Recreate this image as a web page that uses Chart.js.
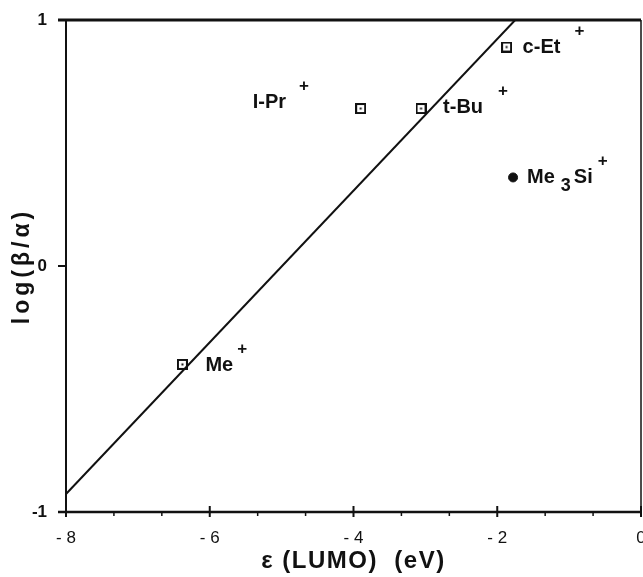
<!DOCTYPE html>
<html>
<head>
<meta charset="utf-8">
<script src="https://cdn.jsdelivr.net/npm/chart.js@4.4.1/dist/chart.umd.min.js"></script>
<style>
    html, body { margin: 0; padding: 0; background: #fff; }
    #wrap { width: 643px; height: 577px; }
</style>
</head>
<body>
<div id="wrap"><canvas id="Chart1" width="643" height="577"></canvas></div>
<script>
// data
const radicals = ["Me", "I-Pr", "t-Bu", "c-Et", "Me3Si"];
const lumoEnergy = [-6.38, -3.90, -3.06, -1.87, -1.78];
const logRatio = [-0.40, 0.64, 0.64, 0.89, 0.36];
const fitLineX = [-8, -1.75];
const fitLineY = [-0.927, 1];
const xTickValues = [-8, -6, -4, -2, 0];
const yTickValues = [-1, 0, 1];

// label placement relative to each marker (px)
const labelStyle = [
    {dx: 23, dy: 1, plusGap: 9},
    {dx: -108, dy: -6, plusGap: 18},
    {dx: 22, dy: -1, plusGap: 20},
    {dx: 16, dy: 0, plusGap: 19},
    {dx: 14, dy: 0, plusGap: 10}
];

const FONT = "'Liberation Sans', Arial, Helvetica, sans-serif";

const openPoints = [];
const filledPoints = [];
radicals.forEach((r, i) => {
    const p = {x: lumoEnergy[i], y: logRatio[i]};
    if (r === "Me3Si") filledPoints.push(p); else openPoints.push(p);
});

// open square with a dot in the middle
function squareMarker() {
    const c = document.createElement('canvas');
    c.width = 11; c.height = 11;
    const g = c.getContext('2d');
    g.strokeStyle = '#111';
    g.lineWidth = 2;
    g.strokeRect(1, 1, 9, 9);
    g.fillStyle = '#111';
    g.fillRect(4.5, 4.5, 2, 2);
    return c;
}

const decorations = {
    id: 'decorations',
    afterDraw(chart) {
        const ctx = chart.ctx;
        const xs = chart.scales.x;
        const ys = chart.scales.y;
        const L = xs.left, R = xs.right, T = ys.top, B = ys.bottom;
        ctx.save();
        ctx.strokeStyle = '#111';
        // frame
        ctx.lineWidth = 3;
        ctx.beginPath(); ctx.moveTo(L - 8, T); ctx.lineTo(R, T); ctx.stroke();
        ctx.lineWidth = 2.5;
        ctx.beginPath(); ctx.moveTo(L - 8, B); ctx.lineTo(R, B); ctx.stroke();
        ctx.lineWidth = 2;
        ctx.beginPath(); ctx.moveTo(L, T); ctx.lineTo(L, B + 5); ctx.stroke();
        ctx.lineWidth = 1.5;
        ctx.beginPath(); ctx.moveTo(R, T); ctx.lineTo(R, B + 5); ctx.stroke();

        // y ticks
        ctx.lineWidth = 2;
        yTickValues.forEach(v => {
            const py = ys.getPixelForValue(v);
            ctx.beginPath(); ctx.moveTo(L - 8, py); ctx.lineTo(L, py); ctx.stroke();
        });
        // x ticks: majors upward, minors every 2/3 downward
        xTickValues.forEach(v => {
            const px = xs.getPixelForValue(v);
            ctx.beginPath(); ctx.moveTo(px, B - 6); ctx.lineTo(px, B + 5); ctx.stroke();
        });
        ctx.lineWidth = 1.5;
        for (let i = 0; i < xTickValues.length - 1; i++) {
            const a = xTickValues[i], b = xTickValues[i + 1];
            [a + (b - a) / 3, a + 2 * (b - a) / 3].forEach(v => {
                const px = xs.getPixelForValue(v);
                ctx.beginPath(); ctx.moveTo(px, B); ctx.lineTo(px, B + 4); ctx.stroke();
            });
        }

        // point labels
        ctx.fillStyle = '#111';
        ctx.textBaseline = 'middle';
        ctx.textAlign = 'left';
        radicals.forEach((r, i) => {
            const st = labelStyle[i];
            let px = xs.getPixelForValue(lumoEnergy[i]) + st.dx;
            const py = ys.getPixelForValue(logRatio[i]) + st.dy;
            ctx.font = 'bold 20px ' + FONT;
            if (r === "Me3Si") {
                ctx.fillText("Me", px, py);
                px += ctx.measureText("Me").width + 6;
                ctx.font = 'bold 18px ' + FONT;
                ctx.fillText("3", px, py + 9);
                px += ctx.measureText("3").width + 3;
                ctx.font = 'bold 20px ' + FONT;
                ctx.fillText("Si", px, py);
                px += ctx.measureText("Si").width;
            } else {
                ctx.fillText(r, px, py);
                px += ctx.measureText(r).width;
            }
            ctx.font = 'bold 17px ' + FONT;
            ctx.fillText("+", px + st.plusGap - 5, py - 16);
        });

        // axis titles
        ctx.textAlign = 'center';
        ctx.font = 'bold 24px ' + FONT;
        ctx.letterSpacing = '1.5px';
        ctx.fillText("ε (LUMO)  (eV)", (L + R) / 2, 561);
        ctx.font = 'bold 23px ' + FONT;
        ctx.letterSpacing = '4px';
        ctx.translate(23, (T + B) / 2);
        ctx.rotate(-Math.PI / 2);
        ctx.fillText("log(β/α)", 0, 0);
        ctx.restore();
    }
};

const ctx = document.getElementById('Chart1').getContext('2d');
new Chart(ctx, {
    type: 'scatter',
    data: {
        datasets: [
            {
                label: 'fit',
                data: fitLineX.map((x, i) => ({x: x, y: fitLineY[i]})),
                showLine: true,
                borderColor: '#111',
                borderWidth: 2,
                pointRadius: 0
            },
            {
                label: 'open',
                data: openPoints,
                pointStyle: squareMarker(),
                pointRadius: 5
            },
            {
                label: 'filled',
                data: filledPoints,
                pointStyle: 'circle',
                pointRadius: 4.5,
                backgroundColor: '#111',
                borderColor: '#111'
            }
        ]
    },
    options: {
        responsive: false,
        animation: false,
        layout: {autoPadding: false, padding: {top: 20, right: 2, left: 0, bottom: 0}},
        plugins: {legend: {display: false}, tooltip: {enabled: false}},
        scales: {
            x: {
                type: 'linear',
                min: -8, max: 0,
                grid: {display: false},
                border: {display: false},
                afterBuildTicks: s => { s.ticks = xTickValues.map(v => ({value: v})); },
                afterFit: s => { s.height = 65; s.paddingLeft = 0; s.paddingRight = 0; },
                ticks: {
                    color: '#111',
                    padding: 8,
                    font: {family: FONT, size: 17},
                    callback: v => v === 0 ? '0' : '- ' + Math.abs(v)
                }
            },
            y: {
                type: 'linear',
                min: -1, max: 1,
                grid: {display: false},
                border: {display: false},
                afterBuildTicks: s => { s.ticks = yTickValues.map(v => ({value: v})); },
                afterFit: s => { s.width = 66; s.paddingTop = 0; s.paddingBottom = 0; },
                ticks: {
                    color: '#111',
                    padding: 11,
                    font: {family: FONT, size: 17, weight: 'bold'},
                    callback: v => String(v)
                }
            }
        }
    },
    plugins: [decorations]
});
</script>
</body>
</html>
